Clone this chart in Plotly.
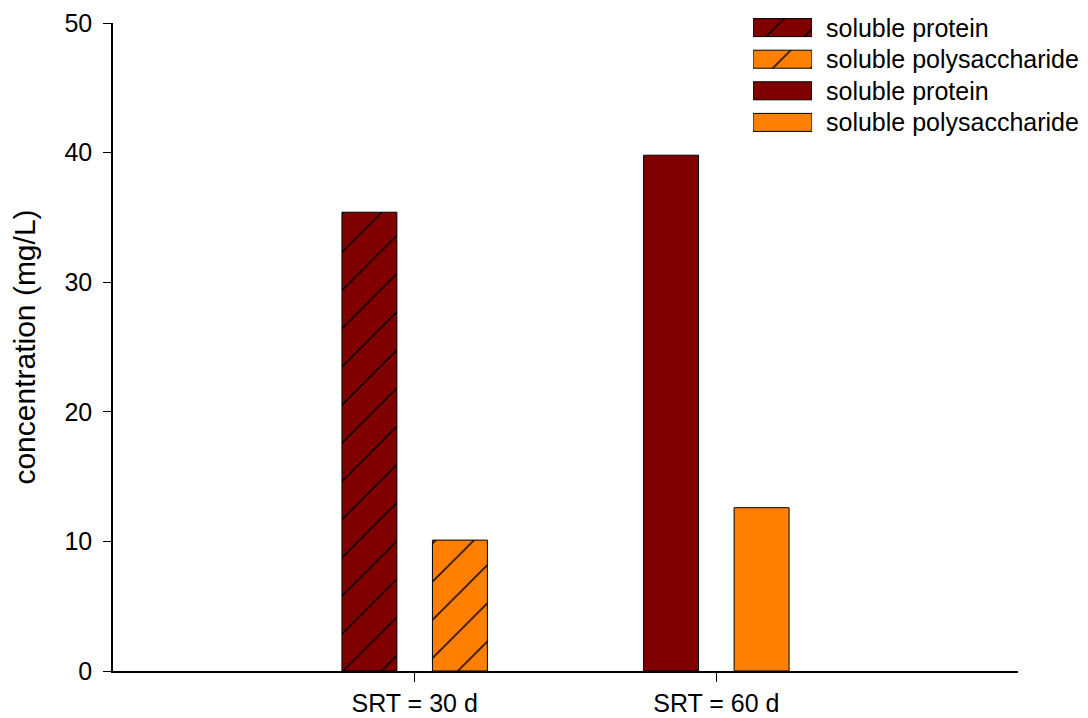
import plotly.graph_objects as go

categories = ["SRT = 30 d", "SRT = 60 d"]
protein = [35.4, 39.8]
polysaccharide = [10.1, 12.6]
series_names = ["soluble protein", "soluble polysaccharide"]
y_ticks = [0, 10, 20, 30, 40, 50]

DARK_RED = "#800000"
ORANGE = "#FF8000"
HATCH = dict(shape="/", fgcolor="black", fgopacity=1, size=27, solidity=0.055)

fig = go.Figure()

# SRT = 30 d : hatched bars
fig.add_trace(go.Bar(
    x=[categories[0]], y=[protein[0]], offsetgroup="a",
    marker=dict(color=DARK_RED, line=dict(color="black", width=1),
                pattern=dict(HATCH, bgcolor=DARK_RED)),
))
fig.add_trace(go.Bar(
    x=[categories[0]], y=[polysaccharide[0]], offsetgroup="b",
    marker=dict(color=ORANGE, line=dict(color="black", width=1),
                pattern=dict(HATCH, bgcolor=ORANGE)),
))
# SRT = 60 d : solid bars
fig.add_trace(go.Bar(
    x=[categories[1]], y=[protein[1]], offsetgroup="a",
    marker=dict(color=DARK_RED, line=dict(color="black", width=1)),
))
fig.add_trace(go.Bar(
    x=[categories[1]], y=[polysaccharide[1]], offsetgroup="b",
    marker=dict(color=ORANGE, line=dict(color="black", width=1)),
))

# legend drawn as an inset of swatches (hatched pair, then solid pair)
legend_rows = ["r1", "r2", "r3", "r4"]
legend_texts = [series_names[0], series_names[1], series_names[0], series_names[1]]
legend_colors = [DARK_RED, ORANGE, DARK_RED, ORANGE]
legend_hatched = [True, True, False, False]
for row, txt, col, hatched in zip(legend_rows, legend_texts, legend_colors, legend_hatched):
    mk = dict(color=col, line=dict(color="black", width=1))
    if hatched:
        mk["pattern"] = dict(HATCH, bgcolor=col)
    fig.add_trace(go.Bar(
        x=[1], y=[row], orientation="h", xaxis="x2", yaxis="y2", width=0.57,
        offsetgroup="leg", hoverinfo="skip", marker=mk,
    ))
    fig.add_annotation(x=1, y=row, xref="x2", yref="y2", text=txt, showarrow=False,
                       xanchor="left", yanchor="middle", xshift=12, font=dict(size=25))

fig.update_layout(
    width=1088, height=718,
    margin=dict(l=113, r=70, t=5, b=47, autoexpand=False),
    paper_bgcolor="white", plot_bgcolor="white",
    font=dict(family="Liberation Sans, Arial, sans-serif", size=25, color="black"),
    barmode="group", bargap=0.4, bargroupgap=0.393,
    showlegend=False,
    xaxis=dict(type="category", categoryorder="array", categoryarray=categories,
               range=[-1, 2], showline=True, linecolor="black", linewidth=1.5,
               ticks="outside", ticklen=9, tickcolor="black", showgrid=False,
               zeroline=False, tickfont=dict(size=25), anchor="y", automargin=False),
    yaxis=dict(domain=[0, 648 / 666], range=[0, 50], tickvals=y_ticks, showline=True,
               linecolor="black", linewidth=1.5, ticks="outside", ticklen=8,
               tickcolor="black", showgrid=False, zeroline=False, tickfont=dict(size=25),
               ticklabelstandoff=6, anchor="x", automargin=False,
               title=dict(text="concentration (mg/L)", font=dict(size=30), standoff=20)),
    xaxis2=dict(domain=[0.7072, 0.7724], range=[0, 1], visible=False, anchor="y2"),
    yaxis2=dict(domain=[0.7997, 0.9901], type="category", categoryorder="array",
                categoryarray=legend_rows, autorange="reversed",
                visible=False, anchor="x2"),
)

fig.write_html("out.html")
